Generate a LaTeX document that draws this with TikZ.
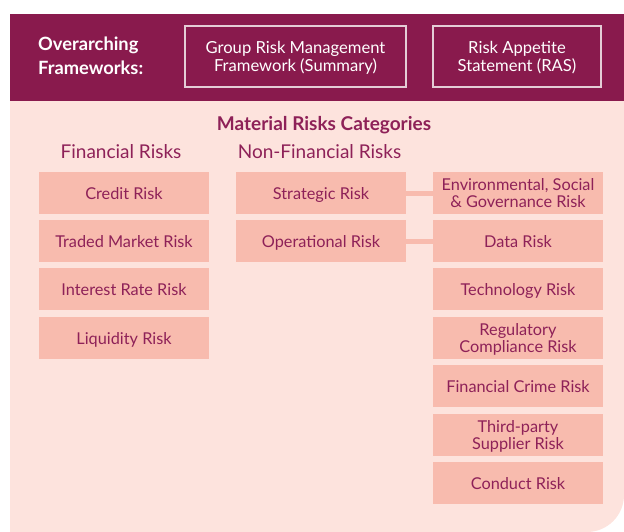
\documentclass[tikz,border=0pt]{standalone}
\usepackage{fontspec}
\setmainfont{Lato}
\definecolor{maroon}{HTML}{891A4D}
\definecolor{bgpink}{HTML}{FDE3DD}
\definecolor{boxpink}{HTML}{F8BBAE}
\definecolor{txtmaroon}{HTML}{8E2158}
\definecolor{frameline}{HTML}{E4CDD6}
\begin{document}
\begin{tikzpicture}[x=1pt,y=-1pt,
  riskbox/.style={fill=boxpink, text=txtmaroon, minimum width=170pt, minimum height=42pt,
    inner sep=0pt, align=center, text depth=0pt, font=\fontsize{16.3}{16.5}\selectfont},
  framebox/.style={draw=frameline, line width=2pt, text=white, inner sep=0pt, align=center,
    text depth=0pt, font=\fontsize{16.6}{18.5}\selectfont},
  link/.style={draw=boxpink, line width=5pt},
  heading/.style={text=txtmaroon, inner sep=0pt, font=\fontsize{19}{20}\selectfont}
]
\useasboundingbox (0,0) rectangle (624,532);
% background areas
\fill[bgpink] (10,101) -- (624,101) -- (624,495) .. controls (624,515.4) and (607.4,532) .. (587,532) -- (10,532) -- cycle;
\fill[maroon] (10,14) rectangle (624,101);
% header
\node[text=white, align=left, anchor=west, inner sep=0pt, font=\bfseries\fontsize{18.3}{24}\selectfont] (over) at (38,56) {Overarching\\Frameworks:};
\node[framebox, minimum width=221pt, minimum height=61pt] (grm) at (295.5,56.5) {Group Risk Management\\Framework (Summary)};
\node[framebox, minimum width=168pt, minimum height=61pt] (ras) at (517,56.5) {Risk Appetite\\Statement (RAS)};
% headings
\node[heading, font=\bfseries\fontsize{19}{20}\selectfont] (mrc) at (324,125) {Material Risks Categories};
\node[heading] (fin) at (121,152) {Financial Risks};
\node[heading] (nfin) at (319.5,152) {Non-Financial Risks};
% left column
\node[riskbox] (credit) at (124,193) {Credit Risk};
\node[riskbox] (traded) at (124,241) {Traded Market Risk};
\node[riskbox] (interest) at (124,289) {Interest Rate Risk};
\node[riskbox] (liquidity) at (124,338) {Liquidity Risk};
% middle column
\node[riskbox] (strategic) at (321,193) {Strategic Risk};
\node[riskbox] (operational) at (321,241) {Operational Risk};
% right column
\node[riskbox] (esg) at (518,193) {Environmental, Social\\\& Governance Risk};
\node[riskbox] (data) at (518,241) {Data Risk};
\node[riskbox] (tech) at (518,289) {Technology Risk};
\node[riskbox] (reg) at (518,338) {Regulatory\\Compliance Risk};
\node[riskbox] (crime) at (518,386) {Financial Crime Risk};
\node[riskbox] (third) at (518,435) {Third-party\\Supplier Risk};
\node[riskbox] (conduct) at (518,483) {Conduct Risk};
% connectors
\draw[link] (strategic.east) -- (esg.west);
\draw[link] (operational.east) -- (data.west);
\end{tikzpicture}
\end{document}
